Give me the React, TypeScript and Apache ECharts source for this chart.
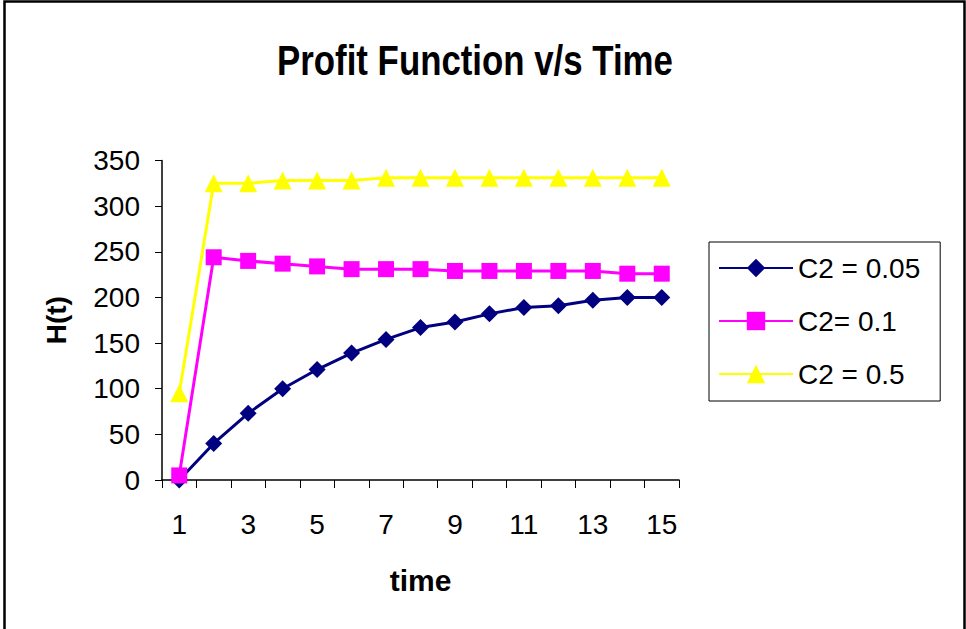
import React, { useEffect, useRef } from "react";
import * as echarts from "echarts";

const timeSteps = ["1", "2", "3", "4", "5", "6", "7", "8", "9", "10", "11", "12", "13", "14", "15"];
const seriesNames = ["C2 = 0.05", "C2= 0.1", "C2 = 0.5"];
const profitC005 = [0, 40, 73, 100, 121, 139, 154, 167, 173, 182, 189, 191, 197, 200, 200];
const profitC01 = [5, 244, 240, 237, 234, 231, 231, 231, 229, 229, 229, 229, 229, 226, 226];
const profitC05 = [95, 325, 325, 328, 328, 328, 331, 331, 331, 331, 331, 331, 331, 331, 331];

const FONT = "'Liberation Sans', Arial, sans-serif";

export default function App() {
  const ref = useRef<HTMLDivElement>(null);

  useEffect(() => {
    if (!ref.current) return;
    const chart = echarts.init(ref.current, null, { renderer: "svg" });
    const lineSeries = (name: string, data: number[], color: string, symbol: string, size: number) => ({
      name,
      type: "line",
      data,
      symbol,
      symbolSize: size,
      showAllSymbol: true,
      lineStyle: { color, width: 3 },
      itemStyle: { color },
    });
    chart.setOption({
      animation: false,
      backgroundColor: "#ffffff",
      textStyle: { fontFamily: FONT },
      grid: { left: 162, right: 287, top: 160.5, bottom: 149 },
      graphic: [
        {
          type: "rect",
          shape: { x: 4.5, y: 1.5, width: 960, height: 700 },
          style: { fill: "none", stroke: "#000", lineWidth: 2.5 },
          silent: true,
        },
        {
          type: "text",
          x: 475,
          y: 60,
          scaleX: 0.81,
          style: {
            text: "Profit Function v/s Time",
            fontFamily: FONT,
            fontSize: 43,
            fontWeight: "bold",
            fill: "#000",
            textAlign: "center",
            textVerticalAlign: "middle",
          },
        },
      ],
      legend: {
        orient: "vertical",
        left: 709,
        top: 242,
        itemWidth: 74,
        itemHeight: 23,
        itemGap: 25,
        padding: [12, 20, 13, 9],
        borderColor: "#000",
        borderWidth: 1,
        backgroundColor: "#fff",
        lineStyle: { width: 2 },
        textStyle: { fontFamily: FONT, fontSize: 28, color: "#000" },
        data: seriesNames,
      },
      xAxis: {
        type: "category",
        data: timeSteps,
        boundaryGap: true,
        name: "time",
        nameLocation: "middle",
        nameGap: 85,
        nameTextStyle: { fontFamily: FONT, fontSize: 30, fontWeight: "bold", color: "#000" },
        axisLine: { lineStyle: { color: "#000", width: 1.5 } },
        axisTick: { show: true, interval: 0, length: 8, lineStyle: { color: "#000", width: 1 } },
        axisLabel: { interval: 1, margin: 30, fontFamily: FONT, fontSize: 28, color: "#000" },
        splitLine: { show: false },
      },
      yAxis: {
        type: "value",
        min: 0,
        max: 350,
        interval: 50,
        name: "H(t)",
        nameLocation: "middle",
        nameGap: 92,
        nameRotate: 90,
        nameTextStyle: { fontFamily: FONT, fontSize: 28, fontWeight: "bold", color: "#000" },
        axisLine: { show: true, lineStyle: { color: "#000", width: 1.5 } },
        axisTick: { show: true, length: 7, lineStyle: { color: "#000", width: 1 } },
        axisLabel: { margin: 22, fontFamily: FONT, fontSize: 28, color: "#000" },
        splitLine: { show: false },
      },
      series: [
        lineSeries(seriesNames[0], profitC005, "#000080", "diamond", 17),
        lineSeries(seriesNames[1], profitC01, "#FF00FF", "rect", 16),
        lineSeries(seriesNames[2], profitC05, "#FFFF00", "triangle", 18),
      ],
    });
    return () => chart.dispose();
  }, []);

  return (
    <div
      ref={ref}
      style={{ position: "absolute", left: 0, top: 0, width: 966, height: 629, background: "#fff" }}
    />
  );
}
